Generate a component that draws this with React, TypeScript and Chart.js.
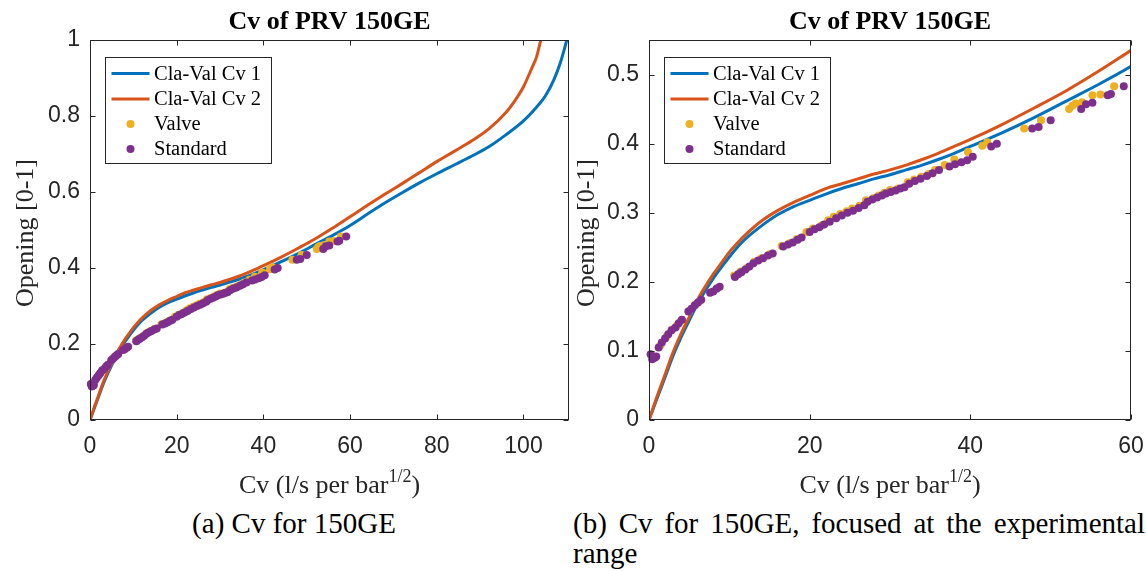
import React, { useEffect, useRef } from 'react';
import { Chart, registerables } from 'chart.js';
Chart.register(...registerables);

// ---------- data ----------
const claVal1Cv = [0, 1, 2, 3, 4, 5, 6, 7, 8, 9, 10, 11, 12, 14, 16, 18, 20, 22, 24, 26, 28, 30, 32, 34, 36, 38, 40, 44, 48, 52, 56, 60, 64, 68, 72, 76, 80, 84, 88, 92, 96, 100, 103, 105, 107, 108.5, 110];
const claVal1Open = [0, 0.031, 0.062, 0.093, 0.120, 0.144, 0.167, 0.187, 0.205, 0.221, 0.236, 0.250, 0.262, 0.281, 0.297, 0.309, 0.318, 0.327, 0.335, 0.342, 0.349, 0.355, 0.362, 0.369, 0.377, 0.386, 0.396, 0.416, 0.438, 0.462, 0.486, 0.512, 0.542, 0.571, 0.598, 0.624, 0.648, 0.671, 0.694, 0.719, 0.751, 0.787, 0.823, 0.852, 0.895, 0.94, 1.0];

const claVal2Cv = [0, 1, 2, 3, 4, 5, 6, 7, 8, 9, 10, 11, 12, 14, 16, 18, 20, 22, 24, 26, 28, 30, 32, 34, 36, 38, 40, 44, 48, 52, 56, 60, 64, 68, 72, 76, 80, 84, 88, 92, 96, 98, 100, 102, 103, 104];
const claVal2Open = [0, 0.034, 0.066, 0.098, 0.125, 0.149, 0.173, 0.193, 0.211, 0.227, 0.243, 0.256, 0.268, 0.288, 0.303, 0.315, 0.325, 0.335, 0.342, 0.349, 0.356, 0.362, 0.369, 0.377, 0.386, 0.396, 0.406, 0.428, 0.452, 0.477, 0.505, 0.535, 0.565, 0.594, 0.622, 0.651, 0.680, 0.707, 0.734, 0.766, 0.81, 0.84, 0.877, 0.928, 0.955, 1.0];

const valveCv = [0.3, 0.8, 1.4, 2.2, 2.9, 3.5, 4.0, 5.0, 5.8, 6.4, 7.7, 8.5, 10.6, 11.4, 12.2, 13.1, 14.0, 15.0, 16.5, 17.5, 18.4, 19.6, 20.4, 21.5, 22.3, 23.0, 23.8, 24.6, 25.3, 26.2, 27.0, 27.9, 28.6, 29.3, 30.0, 31.0, 32.2, 33.0, 33.9, 34.8, 35.6, 36.8, 38.0, 39.7, 41.5, 42.1, 46.7, 48.8, 52.3, 52.7, 53.1, 53.9, 55.2, 56.2, 57.9];
const valveOpen = [0.094, 0.091, 0.108, 0.121, 0.131, 0.137, 0.144, 0.158, 0.167, 0.173, 0.185, 0.191, 0.209, 0.215, 0.220, 0.229, 0.234, 0.240, 0.252, 0.256, 0.262, 0.272, 0.277, 0.282, 0.289, 0.294, 0.298, 0.302, 0.306, 0.310, 0.318, 0.321, 0.325, 0.329, 0.333, 0.335, 0.344, 0.348, 0.352, 0.356, 0.362, 0.369, 0.377, 0.388, 0.397, 0.402, 0.422, 0.434, 0.450, 0.455, 0.458, 0.460, 0.470, 0.471, 0.483];

const standardCv = [0.2, 0.4, 0.7, 0.9, 1.2, 1.6, 2.0, 2.4, 2.8, 3.3, 3.7, 4.1, 4.9, 5.3, 5.7, 6.1, 6.5, 7.6, 8.0, 8.4, 8.8, 10.7, 11.1, 11.5, 12.0, 12.5, 13.0, 13.6, 14.2, 14.8, 15.4, 16.7, 17.3, 17.9, 18.5, 19.0, 20.0, 20.6, 21.2, 21.8, 22.5, 23.3, 24.0, 24.7, 25.4, 26.1, 26.8, 27.2, 27.8, 28.4, 29.0, 29.5, 30.1, 30.7, 31.3, 31.8, 32.4, 33.1, 33.8, 34.6, 35.3, 36.1, 37.4, 38.1, 38.9, 39.6, 40.3, 42.6, 43.3, 47.7, 48.5, 50.0, 53.8, 54.4, 55.2, 57.1, 57.5, 59.1];
const standardOpen = [0.095, 0.088, 0.090, 0.092, 0.105, 0.112, 0.118, 0.124, 0.130, 0.134, 0.140, 0.145, 0.157, 0.161, 0.166, 0.170, 0.174, 0.184, 0.186, 0.190, 0.193, 0.207, 0.211, 0.214, 0.218, 0.222, 0.227, 0.231, 0.234, 0.238, 0.241, 0.251, 0.254, 0.257, 0.261, 0.264, 0.272, 0.276, 0.279, 0.283, 0.287, 0.292, 0.296, 0.300, 0.303, 0.307, 0.311, 0.316, 0.319, 0.322, 0.325, 0.328, 0.330, 0.332, 0.335, 0.337, 0.342, 0.346, 0.349, 0.353, 0.357, 0.362, 0.367, 0.370, 0.373, 0.376, 0.381, 0.396, 0.400, 0.422, 0.424, 0.434, 0.450, 0.457, 0.459, 0.470, 0.472, 0.483];

const seriesNames = ['Cla-Val Cv 1', 'Cla-Val Cv 2', 'Valve', 'Standard'];
const seriesColors = ['#0072BD', '#D95319', '#EDB120', '#7E2F8E'];

const xTicksA = [0, 20, 40, 60, 80, 100];
const yTicksA = [0, 0.2, 0.4, 0.6, 0.8, 1];
const xTicksB = [0, 20, 40, 60];
const yTicksB = [0, 0.1, 0.2, 0.3, 0.4, 0.5];

const chartTitle = 'Cv of PRV 150GE';
const yTitle = 'Opening [0-1]';
const xTitleMain = 'Cv (l/s per bar';
const xTitleSup = '1/2';
const xTitleEnd = ')';
const captionA = '(a) Cv for 150GE';
const captionB1 = '(b) Cv for 150GE, focused at the experimental';
const captionB2 = 'range';

const pts = (xs: number[], ys: number[]) => xs.map((x, i) => ({ x, y: ys[i] }));

const SERIF = '"Liberation Serif", "Times New Roman", serif';
const SANS = '"Liberation Sans", Arial, Helvetica, sans-serif';
const AXC = '#262626';

function decorPlugin(yTitleX: number, xTicks: number[], yTicks: number[]) {
  return {
    id: 'decor',
    afterDraw(chart: any) {
      const ctx = chart.ctx as CanvasRenderingContext2D;
      const a = chart.chartArea;
      const xs = chart.scales.x;
      const ys = chart.scales.y;
      const L = Math.round(a.left) + 0.5;
      const R = Math.round(a.right) - 0.5;
      const T = Math.round(a.top) + 0.5;
      const B = Math.round(a.bottom) - 0.5;
      ctx.save();
      ctx.strokeStyle = AXC;
      ctx.lineWidth = 1;
      ctx.strokeRect(L, T, R - L, B - T);
      const tl = 5;
      ctx.beginPath();
      xTicks.forEach((v) => {
        const px = Math.round(xs.getPixelForValue(v)) + 0.5;
        ctx.moveTo(px, B); ctx.lineTo(px, B - tl);
        ctx.moveTo(px, T); ctx.lineTo(px, T + tl);
      });
      yTicks.forEach((v) => {
        const py = Math.round(ys.getPixelForValue(v)) + 0.5;
        ctx.moveTo(L, py); ctx.lineTo(L + tl, py);
        ctx.moveTo(R, py); ctx.lineTo(R - tl, py);
      });
      ctx.stroke();

      const cx = (a.left + a.right) / 2;
      ctx.fillStyle = '#000';
      ctx.font = `bold 26px ${SERIF}`;
      ctx.textAlign = 'center';
      ctx.textBaseline = 'alphabetic';
      ctx.fillText(chartTitle, cx, 29);

      ctx.fillStyle = AXC;
      ctx.font = `26px ${SERIF}`;
      const w1 = ctx.measureText(xTitleMain).width;
      const w3 = ctx.measureText(xTitleEnd).width;
      ctx.font = `18px ${SERIF}`;
      const w2 = ctx.measureText(xTitleSup).width;
      let sx = cx - (w1 + w2 + w3) / 2;
      ctx.textAlign = 'left';
      ctx.font = `26px ${SERIF}`;
      ctx.fillText(xTitleMain, sx, 493);
      sx += w1;
      ctx.font = `18px ${SERIF}`;
      ctx.fillText(xTitleSup, sx, 482);
      sx += w2;
      ctx.font = `26px ${SERIF}`;
      ctx.fillText(xTitleEnd, sx, 493);

      ctx.save();
      ctx.translate(yTitleX, (a.top + a.bottom) / 2 + 3);
      ctx.rotate(-Math.PI / 2);
      ctx.textAlign = 'center';
      ctx.textBaseline = 'middle';
      ctx.font = `26px ${SERIF}`;
      ctx.fillText(yTitle, 0, 0);
      ctx.restore();

      const lx = Math.round(a.left + 15) + 0.5;
      const ly = Math.round(a.top + 16.5) + 0.5;
      ctx.fillStyle = '#fff';
      ctx.fillRect(lx, ly, 166, 106);
      ctx.strokeStyle = AXC;
      ctx.lineWidth = 1;
      ctx.strokeRect(lx, ly, 166, 106);
      const rows = [16, 41.5, 66.5, 91.5];
      ctx.font = `20.5px ${SERIF}`;
      ctx.textAlign = 'left';
      ctx.textBaseline = 'middle';
      rows.forEach((ry, i) => {
        const y = ly + ry;
        if (i < 2) {
          ctx.strokeStyle = seriesColors[i];
          ctx.lineWidth = 3;
          ctx.beginPath();
          ctx.moveTo(lx + 6, y);
          ctx.lineTo(lx + 44, y);
          ctx.stroke();
        } else {
          ctx.fillStyle = seriesColors[i];
          ctx.beginPath();
          ctx.arc(lx + 25, y, 4, 0, Math.PI * 2);
          ctx.fill();
        }
        ctx.fillStyle = '#000';
        ctx.fillText(seriesNames[i], lx + 48.5, y + 1);
      });
      ctx.restore();
    },
  };
}

interface PanelProps {
  left: number;
  xMax: number;
  yMax: number;
  xTicks: number[];
  yTicks: number[];
  yWidth: number;
  padRight: number;
  yTitleX: number;
}

function Panel({ left, xMax, yMax, xTicks, yTicks, yWidth, padRight, yTitleX }: PanelProps) {
  const ref = useRef<HTMLCanvasElement>(null);
  useEffect(() => {
    const fmt = (v: any) => String(Number(Number(v).toFixed(2)));
    const lineDs = (i: number, xs: number[], ys: number[], order: number) => ({
      type: 'line' as const,
      label: seriesNames[i],
      data: pts(xs, ys),
      borderColor: seriesColors[i],
      backgroundColor: seriesColors[i],
      borderWidth: 3,
      pointRadius: 0,
      showLine: true,
      fill: false,
      cubicInterpolationMode: 'monotone' as const,
      order,
    });
    const dotDs = (i: number, xs: number[], ys: number[], order: number) => ({
      type: 'scatter' as const,
      label: seriesNames[i],
      data: pts(xs, ys),
      backgroundColor: seriesColors[i],
      borderColor: seriesColors[i],
      borderWidth: 0,
      pointRadius: 4,
      pointHoverRadius: 4,
      showLine: false,
      clip: false as any,
      order,
    });
    const chart = new Chart(ref.current as HTMLCanvasElement, {
      type: 'scatter',
      data: {
        datasets: [
          dotDs(3, standardCv, standardOpen, 0),
          dotDs(2, valveCv, valveOpen, 1),
          lineDs(1, claVal2Cv, claVal2Open, 2),
          lineDs(0, claVal1Cv, claVal1Open, 3),
        ] as any,
      },
      options: {
        responsive: false,
        animation: false,
        devicePixelRatio: 1,
        layout: { padding: { left: 0, right: padRight, top: 40, bottom: 20 } },
        plugins: { legend: { display: false }, tooltip: { enabled: false }, title: { display: false } },
        events: [],
        scales: {
          x: {
            type: 'linear',
            min: 0,
            max: xMax,
            grid: { display: false, drawTicks: false },
            border: { display: false },
            ticks: {
              font: { family: SANS, size: 23 },
              color: AXC,
              padding: 13,
              maxRotation: 0,
              autoSkip: false,
              callback: fmt,
            },
            afterBuildTicks: (s: any) => { s.ticks = xTicks.map((v) => ({ value: v })); },
            afterFit: (s: any) => { s.height = 60; s.paddingLeft = 0; s.paddingRight = 0; },
          },
          y: {
            type: 'linear',
            min: 0,
            max: yMax,
            grid: { display: false, drawTicks: false },
            border: { display: false },
            ticks: {
              font: { family: SANS, size: 23 },
              color: AXC,
              padding: 10,
              autoSkip: false,
              callback: fmt,
            },
            afterBuildTicks: (s: any) => { s.ticks = yTicks.map((v) => ({ value: v })); },
            afterFit: (s: any) => { s.width = yWidth; s.paddingTop = 0; s.paddingBottom = 0; },
          },
        },
      } as any,
      plugins: [decorPlugin(yTitleX, xTicks, yTicks)],
    });
    return () => chart.destroy();
  }, []);
  return (
    <canvas
      ref={ref}
      width={573}
      height={500}
      style={{ position: 'absolute', left, top: 0, width: 573, height: 500 }}
    />
  );
}

export default function App() {
  const capStyle: React.CSSProperties = {
    position: 'absolute',
    fontFamily: SERIF,
    fontSize: 29,
    lineHeight: '29px',
    color: '#000',
    whiteSpace: 'nowrap',
  };
  return (
    <div style={{ position: 'absolute', left: 0, top: 0, width: 1146, height: 571, background: '#fff', overflow: 'hidden' }}>
      <Panel left={0} xMax={110.5} yMax={1} xTicks={xTicksA} yTicks={yTicksA} yWidth={90} padRight={3} yTitleX={26.5} />
      <Panel left={573} xMax={60} yMax={0.55} xTicks={xTicksB} yTicks={yTicksB} yWidth={76} padRight={15} yTitleX={14} />
      <div style={{ ...capStyle, left: 0, width: 588, textAlign: 'center', top: 509 }}>{captionA}</div>
      <div style={{ ...capStyle, left: 573, width: 572, textAlign: 'justify', textAlignLast: 'justify', top: 509, whiteSpace: 'normal' }}>{captionB1}</div>
      <div style={{ ...capStyle, left: 573, top: 539 }}>{captionB2}</div>
    </div>
  );
}
